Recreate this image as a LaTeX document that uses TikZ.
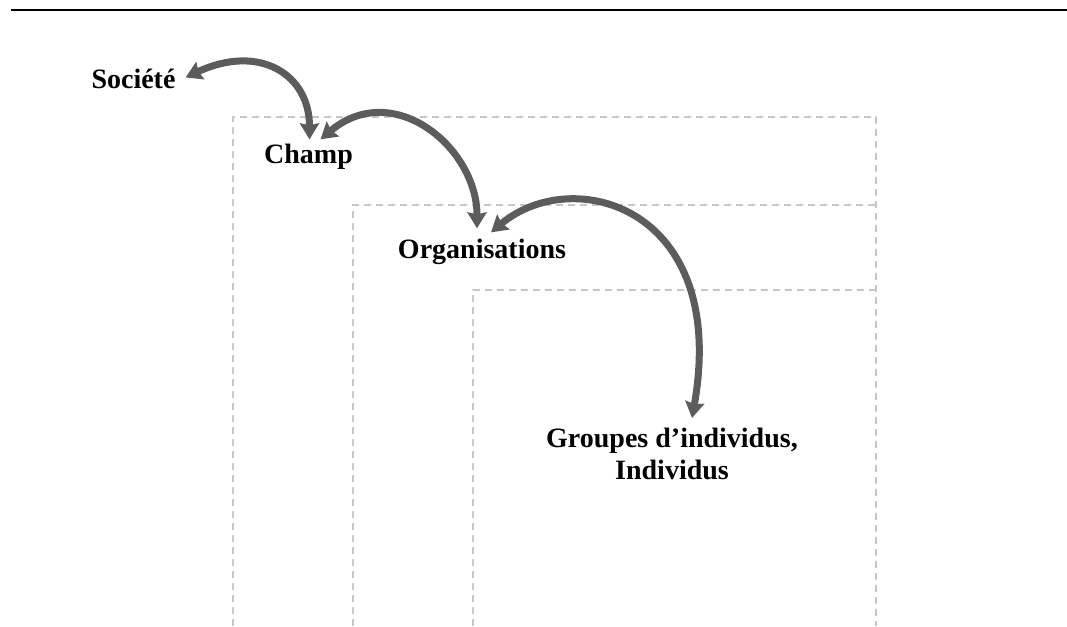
\documentclass[tikz,border=0pt]{standalone}
\usepackage{fontspec}
\setmainfont{Liberation Serif}
\usetikzlibrary{positioning,calc,arrows.meta}

\begin{document}
\begin{tikzpicture}[
    x=1pt, y=1pt,
    every node/.style={inner sep=0, font=\bfseries\fontsize{28}{32}\selectfont},
    frame/.style={draw=black!22, line width=1.3pt, dash pattern=on 7pt off 5pt},
    link/.style={draw=black!64, line width=7pt,
        {Stealth[length=16pt,width=19pt,inset=2pt]}-{Stealth[length=16pt,width=19pt,inset=2pt]}}
]
\useasboundingbox (0,0) rectangle (1067,-626);
\draw[line width=2.6pt] (11,-10) -- (1067,-10);
\draw[frame] (233,-626) -- (233,-117) -- (876,-117) -- (876,-626);
\draw[frame] (353,-626) -- (353,-205) -- (876,-205);
\draw[frame] (473,-626) -- (473,-290) -- (876,-290);
\node[anchor=base] (societe) at (133.5,-88) {Société};
\node[anchor=base] (champ) at (308.5,-163) {Champ};
\node[anchor=base] (orga) at (482,-258) {Organisations};
\node[anchor=north, align=center] (groupes) at (672,-428) {Groupes d’individus,\\Individus};
\draw[link] ([xshift=10pt,yshift=1pt]societe.east)
            to[out=25,in=90,out looseness=1.5,in looseness=1.2] ([xshift=1pt,yshift=4pt]champ.north) ;
\draw[link] ([xshift=12pt,yshift=4pt]champ.north)
            to[out=40,in=90,out looseness=1.35,in looseness=1.15] ([xshift=-5pt,yshift=10pt]orga.north) ;
\draw[link] ([xshift=9pt,yshift=6pt]orga.north)
            to[out=40,in=80,out looseness=1,in looseness=2] ([xshift=20pt,yshift=10pt]groupes.north) ;
\end{tikzpicture}
\end{document}
